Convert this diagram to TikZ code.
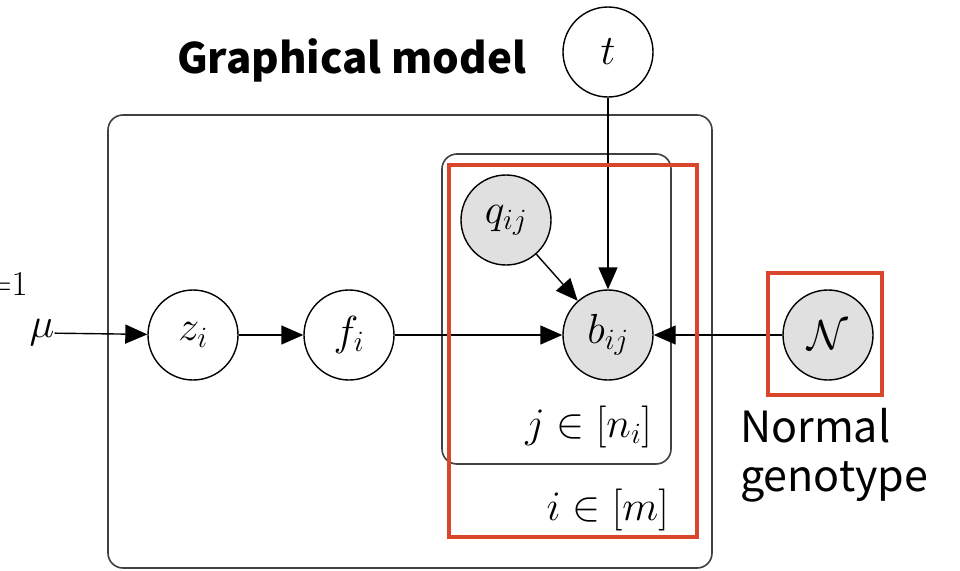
\RequirePackage{fix-cm}
\documentclass[tikz,border=0pt]{standalone}
\usepackage{fontspec}
\usetikzlibrary{arrows.meta}
\newfontfamily\cjksans{Noto Sans CJK SC}
\definecolor{nodegray}{HTML}{E0E0E0}
\definecolor{platered}{HTML}{D9462B}
\begin{document}
\begin{tikzpicture}[x=1pt,y=-1pt,
  font=\fontsize{42}{50}\selectfont,
  var/.style={circle,draw=black,line width=1.4pt,minimum size=90pt,inner sep=0pt},
  obs/.style={var,fill=nodegray},
  plate/.style={draw=black!75,line width=1.6pt,rounded corners=15pt},
  hl/.style={draw=platered,line width=3.5pt},
  edge/.style={line width=1.4pt,-{Triangle[length=22pt,width=19pt]}},
  lbl/.style={inner sep=0pt,anchor=base east}]
\useasboundingbox (0,0) rectangle (960,570);
% plates
\draw[plate] (108,115) rectangle (712,568);
\draw[plate] (442,154) rectangle (671,464);
% nodes
\node[var] (z) at (193,335) {$z_i$};
\node[var] (f) at (349,335) {$f_i$};
\node[obs] (b) at (608,335) {$b_{ij}$};
\node[obs] (q) at (506,220) {$q_{ij}$};
\node[var,fill=white] (t) at (608,52) {$t$};
\node[obs] (N) at (828,335) {$\mathcal{N}$};
\node[inner sep=0pt] (mu) at (42,333) {$\mu$};
\node[lbl,font=\fontsize{35}{40}\selectfont] (eq) at (28,295) {${=}1$};
% edges
\draw[edge] (mu) -- (z);
\draw[edge] (z) -- (f);
\draw[edge] (f) -- (b);
\draw[edge] (q) -- (b);
\draw[edge] (t) -- (b);
\draw[edge] (N) -- (b);
% plate labels
\node[lbl] (jl) at (652,437) {$j\in[n_i]$};
\node[lbl] (il) at (669,520) {$i\in[m]$};
% highlights
\draw[hl] (449,165) rectangle (697,537);
\draw[hl] (768,273) rectangle (882,395);
% texts
\node[anchor=base west,inner sep=0pt,font=\cjksans\bfseries\fontsize{42}{48}\selectfont] (title) at (177,73) {Graphical model};
\node[anchor=base west,inner sep=0pt,font=\cjksans\fontsize{43}{50}\selectfont] (n1) at (740,442) {Normal};
\node[anchor=base west,inner sep=0pt,font=\cjksans\fontsize{43}{50}\selectfont] (n2) at (740,491) {genotype};
\end{tikzpicture}
\end{document}
